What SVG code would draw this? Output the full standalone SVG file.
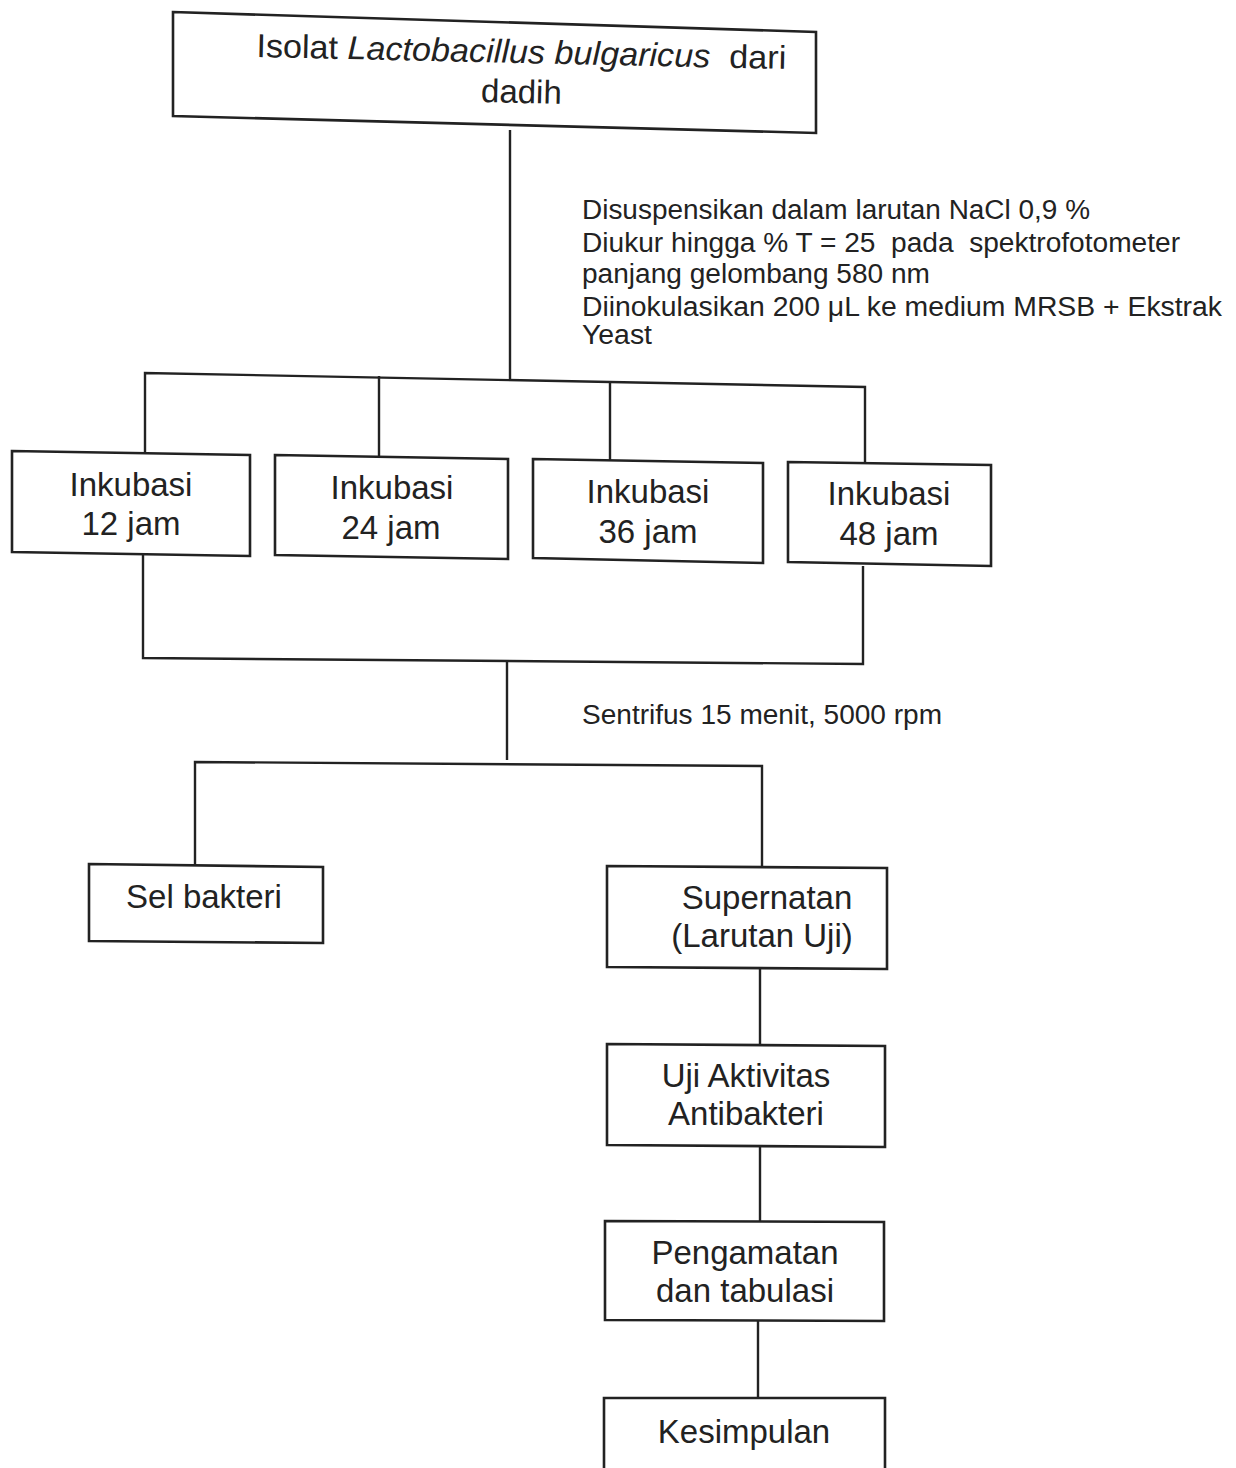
<svg xmlns="http://www.w3.org/2000/svg" width="1236" height="1468" viewBox="0 0 1236 1468">
<style>
.box{fill:#ffffff;stroke:#222;stroke-width:2.6;stroke-linejoin:miter}
.ln{fill:none;stroke:#222;stroke-width:2.4}
.t{font-family:"Liberation Sans",Arial,sans-serif;font-size:33px;fill:#222}
.a{font-family:"Liberation Sans",Arial,sans-serif;font-size:27px;fill:#222}
</style>
<rect x="0" y="0" width="1236" height="1468" fill="#ffffff"/>
<g id="connectors">
<polyline class="ln" points="510,130 510,380"/>
<polyline class="ln" points="145,452 145,373 865,387 865,463"/>
<polyline class="ln" points="379,376 379,456"/>
<polyline class="ln" points="610,381 610,460"/>
<polyline class="ln" points="143,555 143,658 863,664 863,566"/>
<polyline class="ln" points="507,662 507,760"/>
<polyline class="ln" points="195,865 195,762 762,766 762,866"/>
<polyline class="ln" points="760,968 760,1045"/>
<polyline class="ln" points="760,1146 760,1222"/>
<polyline class="ln" points="758,1321 758,1398"/>
</g>
<g id="annotation1">
<text class="a" x="582" y="219" textLength="508" lengthAdjust="spacingAndGlyphs">Disuspensikan dalam larutan NaCl 0,9 %</text>
<text class="a" x="582" y="252" textLength="598" lengthAdjust="spacingAndGlyphs" xml:space="preserve">Diukur hingga % T = 25  pada  spektrofotometer</text>
<text class="a" x="582" y="283" textLength="348" lengthAdjust="spacingAndGlyphs">panjang gelombang 580 nm</text>
<text class="a" x="582" y="316" textLength="640" lengthAdjust="spacingAndGlyphs">Diinokulasikan 200 μL ke medium MRSB + Ekstrak</text>
<text class="a" x="582" y="344" textLength="70" lengthAdjust="spacingAndGlyphs">Yeast</text>
</g>
<g id="annotation2">
<text class="a" x="582" y="724" textLength="360" lengthAdjust="spacingAndGlyphs">Sentrifus 15 menit, 5000 rpm</text>
</g>
<g id="node-isolat">
<polygon class="box" points="173,12 816,32 816,133 173,116"/>
<g transform="rotate(1.3 520 66)">
<text class="t" x="256" y="63" xml:space="preserve" textLength="530" lengthAdjust="spacingAndGlyphs">Isolat <tspan font-style="italic">Lactobacillus bulgaricus</tspan>  dari</text>
<text class="t" x="522" y="103" text-anchor="middle">dadih</text>
</g>
</g>
<g id="node-inkubasi12">
<polygon class="box" points="12,451 250,455 250,556 12,552"/>
<text class="t" x="131" y="496" text-anchor="middle">Inkubasi</text>
<text class="t" x="131" y="535" text-anchor="middle">12 jam</text>
</g>
<g id="node-inkubasi24">
<polygon class="box" points="275,455 508,459 508,559 275,555"/>
<text class="t" x="392" y="499" text-anchor="middle">Inkubasi</text>
<text class="t" x="391" y="539" text-anchor="middle">24 jam</text>
</g>
<g id="node-inkubasi36">
<polygon class="box" points="533,459 763,463 763,563 533,558"/>
<text class="t" x="648" y="503" text-anchor="middle">Inkubasi</text>
<text class="t" x="648" y="543" text-anchor="middle">36 jam</text>
</g>
<g id="node-inkubasi48">
<polygon class="box" points="788,462 991,465 991,566 788,562"/>
<text class="t" x="889" y="505" text-anchor="middle">Inkubasi</text>
<text class="t" x="889" y="545" text-anchor="middle">48 jam</text>
</g>
<g id="node-sel">
<polygon class="box" points="89,864 323,867 323,943 89,941"/>
<text class="t" x="204" y="908" text-anchor="middle">Sel bakteri</text>
</g>
<g id="node-supernatan">
<polygon class="box" points="607,866 887,868 887,969 607,967"/>
<text class="t" x="767" y="909" text-anchor="middle">Supernatan</text>
<text class="t" x="762" y="947" text-anchor="middle">(Larutan Uji)</text>
</g>
<g id="node-uji">
<polygon class="box" points="607,1044 885,1046 885,1147 607,1145"/>
<text class="t" x="746" y="1087" text-anchor="middle">Uji Aktivitas</text>
<text class="t" x="746" y="1125" text-anchor="middle">Antibakteri</text>
</g>
<g id="node-pengamatan">
<polygon class="box" points="605,1221 884,1222 884,1321 605,1320"/>
<text class="t" x="745" y="1264" text-anchor="middle">Pengamatan</text>
<text class="t" x="745" y="1302" text-anchor="middle">dan tabulasi</text>
</g>
<g id="node-kesimpulan">
<polygon class="box" points="604,1398 885,1398 885,1480 604,1480"/>
<text class="t" x="744" y="1443" text-anchor="middle">Kesimpulan</text>
</g>
</svg>
